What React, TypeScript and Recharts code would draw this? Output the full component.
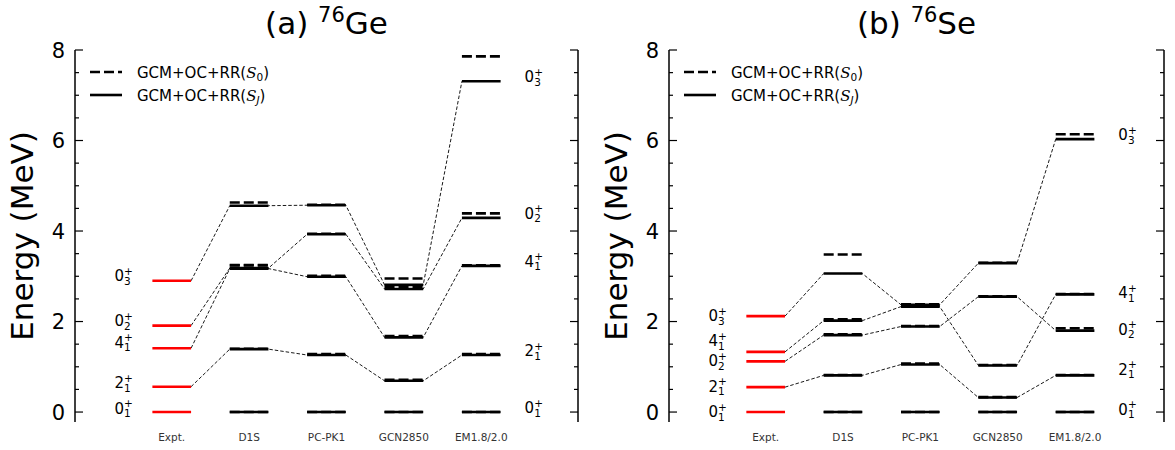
import React from 'react';
import { ComposedChart, Line, XAxis, YAxis, Scatter, Legend } from 'recharts';

const FONT = '"DejaVu Sans", Verdana, sans-serif';

// ---------- categories / ticks / labels ----------
const categories = ['Expt.', 'D1S', 'PC-PK1', 'GCN2850', 'EM1.8/2.0'];
const categoryTicks = [0, 1, 2, 3, 4];
const yTicks = [0, 0.5, 1, 1.5, 2, 2.5, 3, 3.5, 4, 4.5, 5, 5.5, 6, 6.5, 7, 7.5, 8];
// state order: 0_1+, 2_1+, 4_1+, 0_2+, 0_3+
const stateMain = ['0', '2', '4', '0', '0'];
const stateSub = ['1', '1', '1', '2', '3'];

// ---------- 76Ge (MeV) ----------
const geExpt = [0, 0.56, 1.41, 1.91, 2.9];
// model order: D1S, PC-PK1, GCN2850, EM1.8/2.0
const geSJ_01 = [0, 0, 0, 0];
const geSJ_21 = [1.39, 1.26, 0.69, 1.26];
const geSJ_41 = [3.17, 2.99, 1.65, 3.23];
const geSJ_02 = [3.18, 3.93, 2.72, 4.29];
const geSJ_03 = [4.56, 4.57, 2.81, 7.31];
const geS0_01 = [0, 0, 0, 0];
const geS0_21 = [1.4, 1.28, 0.71, 1.28];
const geS0_41 = [3.24, 3.01, 1.68, 3.24];
const geS0_02 = [3.25, 3.94, 2.77, 4.39];
const geS0_03 = [4.63, 4.58, 2.95, 7.86];
const geLeftLabelE = [0.08, 0.65, 1.54, 2.02, 3.01];
const geRightLabelE = [0.09, 1.35, 3.33, 4.39, 7.41];

// ---------- 76Se (MeV) ----------
const seExpt = [0, 0.55, 1.33, 1.12, 2.12];
const seSJ_01 = [0, 0, 0, 0];
const seSJ_21 = [0.81, 1.05, 0.32, 0.81];
const seSJ_41 = [2.02, 2.33, 1.03, 2.6];
const seSJ_02 = [1.7, 1.89, 2.55, 1.8];
const seSJ_03 = [3.06, 2.37, 3.29, 6.03];
const seS0_01 = [0, 0, 0, 0];
const seS0_21 = [0.82, 1.07, 0.33, 0.82];
const seS0_41 = [2.05, 2.35, 1.04, 2.61];
const seS0_02 = [1.72, 1.9, 2.56, 1.85];
const seS0_03 = [3.48, 2.38, 3.3, 6.14];
const seLeftLabelE = [0.01, 0.57, 1.58, 1.13, 2.13];
const seRightLabelE = [0.06, 0.95, 2.64, 1.83, 6.13];

// ---------- helpers ----------
const HALF = 0.25;
type Pt = { x: number; y: number | null };

const modelBars = (vals: number[]): Pt[] => {
  const pts: Pt[] = [];
  vals.forEach((v, i) => {
    const c = i + 1;
    if (i > 0) pts.push({ x: c - 0.5, y: null });
    pts.push({ x: c - HALF, y: v }, { x: c + HALF, y: v });
  });
  return pts;
};
const exptBar = (v: number): Pt[] => [
  { x: -HALF, y: v },
  { x: HALF, y: v },
];
const connector = (e: number, vals: number[]): Pt[] => {
  const pts: Pt[] = [{ x: HALF, y: e }];
  vals.forEach((v, i) => {
    const c = i + 1;
    pts.push({ x: c - HALF, y: v });
    if (i < vals.length - 1) pts.push({ x: c + HALF, y: v });
  });
  return pts;
};

const LabelShape = (props: any) => {
  const { cx, cy, payload } = props;
  if (cx == null || cy == null) return <g />;
  const base = cy + 5.5;
  return (
    <g>
      <text x={cx} y={base} fontSize={15} fontFamily={FONT} fill="#000">
        {payload.main}
      </text>
      <text x={cx + 9.6} y={base - 6.5} fontSize={10.5} fontFamily={FONT} fill="#000">
        +
      </text>
      <text x={cx + 9.6} y={base + 3.5} fontSize={10.5} fontFamily={FONT} fill="#000">
        {payload.sub}
      </text>
    </g>
  );
};

const LeftTick = (p: any) => {
  const { x, y, payload } = p;
  const v = payload.value;
  const major = v % 2 === 0;
  return (
    <g>
      <line x1={x} x2={x + (major ? 8 : 4)} y1={y} y2={y} stroke="#000" strokeWidth={1.2} />
      {major && (
        <text x={x - 10} y={y + 7.5} textAnchor="end" fontSize={21} fontFamily={FONT} fill="#000">
          {v}
        </text>
      )}
    </g>
  );
};

const RightTick = (p: any) => {
  const { x, y, payload } = p;
  const v = payload.value;
  const major = v % 2 === 0;
  return <line x1={x} x2={x - (major ? 8 : 4)} y1={y} y2={y} stroke="#000" strokeWidth={1.2} />;
};

const CatTick = (p: any) => {
  const { x, y, payload } = p;
  return (
    <text x={x} y={y + 19} textAnchor="middle" fontSize={10.5} fontFamily={FONT} fill="#333">
      {categories[payload.value]}
    </text>
  );
};

const LegendBox = () => (
  <svg width={300} height={60} style={{ overflow: 'visible' }}>
    <line x1={15} x2={47} y1={17} y2={17} stroke="#000" strokeWidth={2.6} strokeDasharray="10 4" />
    <line x1={15} x2={47} y1={40} y2={40} stroke="#000" strokeWidth={2.6} />
    <text x={62} y={22.5} fontSize={15} fontFamily={FONT} fill="#000">
      GCM+OC+RR(
      <tspan fontStyle="italic" fontFamily='"DejaVu Serif", serif'>S</tspan>
      <tspan fontSize={10.5} dy={3}>0</tspan>
      <tspan dy={-3}>)</tspan>
    </text>
    <text x={62} y={45.5} fontSize={15} fontFamily={FONT} fill="#000">
      GCM+OC+RR(
      <tspan fontStyle="italic" fontFamily='"DejaVu Serif", serif'>S</tspan>
      <tspan fontSize={10.5} dy={3} fontStyle="italic">J</tspan>
      <tspan dy={-3}>)</tspan>
    </text>
  </svg>
);

type PanelProps = {
  left: number;
  width: number;
  plotLeft: number;
  plotRight: number;
  xMax: number;
  tag: string;
  mass: string;
  element: string;
  expt: number[];
  sj: number[][];
  s0: number[][];
  leftLabelE: number[];
  rightLabelE: number[];
};

function Panel(props: PanelProps) {
  const { left, width, plotLeft, plotRight, xMax, tag, mass, element, expt, sj, s0, leftLabelE, rightLabelE } = props;
  const H = 450;
  const plotTop = 50;
  const plotBottom = 422;
  const AXW = 1;
  const leftLabels = stateMain.map((m, i) => ({ x: -0.74, y: leftLabelE[i], main: m, sub: stateSub[i] }));
  const rightLabels = stateMain.map((m, i) => ({ x: 4.56, y: rightLabelE[i], main: m, sub: stateSub[i] }));
  const cx = (plotLeft + plotRight) / 2;
  const cy = (plotTop + plotBottom) / 2;
  return (
    <div style={{ position: 'absolute', left, top: 0, width, height: H }}>
      <ComposedChart
        width={width}
        height={H}
        margin={{ top: plotTop, right: width - plotRight - AXW, bottom: 0, left: plotLeft - AXW }}
      >
        <XAxis
          type="number"
          dataKey="x"
          domain={[-1.25, xMax]}
          allowDataOverflow
          ticks={categoryTicks}
          interval={0}
          axisLine={false}
          tickLine={false}
          tickSize={0}
          tickMargin={0}
          height={H - plotBottom}
          tick={(p: any) => <CatTick {...p} />}
        />
        <YAxis
          yAxisId="l"
          type="number"
          dataKey="y"
          domain={[-0.22, 8]}
          allowDataOverflow
          ticks={yTicks}
          interval={0}
          width={AXW}
          tickSize={0}
          tickMargin={0}
          tickLine={false}
          axisLine={{ stroke: '#000', strokeWidth: 1.5 }}
          tick={(p: any) => <LeftTick {...p} />}
        />
        <YAxis
          yAxisId="r"
          orientation="right"
          type="number"
          dataKey="y"
          domain={[-0.22, 8]}
          allowDataOverflow
          ticks={yTicks}
          interval={0}
          width={AXW}
          tickSize={0}
          tickMargin={0}
          tickLine={false}
          axisLine={{ stroke: '#000', strokeWidth: 1.5 }}
          tick={(p: any) => <RightTick {...p} />}
        />
        {[1, 2, 3, 4].map((s) => (
          <Line
            key={'c' + s}
            yAxisId="l"
            data={connector(expt[s], sj[s])}
            dataKey="y"
            stroke="#000"
            strokeWidth={0.9}
            strokeDasharray="3.5 2"
            dot={false}
            activeDot={false}
            isAnimationActive={false}
          />
        ))}
        {s0.map((vals, s) => (
          <Line
            key={'d' + s}
            yAxisId="l"
            data={modelBars(vals)}
            dataKey="y"
            stroke="#000"
            strokeWidth={2.6}
            strokeDasharray="10 4"
            strokeLinecap="butt"
            dot={false}
            activeDot={false}
            isAnimationActive={false}
          />
        ))}
        {sj.map((vals, s) => (
          <Line
            key={'s' + s}
            yAxisId="l"
            data={modelBars(vals)}
            dataKey="y"
            stroke="#000"
            strokeWidth={2.6}
            strokeLinecap="butt"
            dot={false}
            activeDot={false}
            isAnimationActive={false}
          />
        ))}
        {expt.map((v, s) => (
          <Line
            key={'e' + s}
            yAxisId="l"
            data={exptBar(v)}
            dataKey="y"
            stroke="#ff0000"
            strokeWidth={2.6}
            strokeLinecap="butt"
            dot={false}
            activeDot={false}
            isAnimationActive={false}
          />
        ))}
        <Scatter yAxisId="l" data={leftLabels} dataKey="y" shape={LabelShape} isAnimationActive={false} />
        <Scatter yAxisId="l" data={rightLabels} dataKey="y" shape={LabelShape} isAnimationActive={false} />
        <Legend
          layout="vertical"
          align="center"
          verticalAlign="middle"
          wrapperStyle={{ left: plotLeft, top: 55, width: 300, height: 60 }}
          content={() => <LegendBox />}
        />
      </ComposedChart>
      <svg
        width={width}
        height={H}
        style={{ position: 'absolute', left: 0, top: 0, pointerEvents: 'none' }}
      >
        <text x={cx} y={34} textAnchor="middle" fontSize={31} fontFamily={FONT} fill="#000">
          {tag + ' '}
          <tspan fontSize={21} dy={-12}>
            {mass}
          </tspan>
          <tspan dy={12}>{element}</tspan>
        </text>
        <text
          transform={`translate(${plotLeft - 42}, ${cy}) rotate(-90)`}
          x={0}
          y={0}
          textAnchor="middle"
          fontSize={31}
          fontFamily={FONT}
          fill="#000"
        >
          Energy (MeV)
        </text>
      </svg>
    </div>
  );
}

export default function App() {
  return (
    <div style={{ position: 'absolute', left: 0, top: 0, width: 1175, height: 450, background: '#fff' }}>
      <Panel
        left={0}
        width={590}
        plotLeft={75}
        plotRight={578}
        xMax={5.25}
        tag="(a)"
        mass="76"
        element="Ge"
        expt={geExpt}
        sj={[geSJ_01, geSJ_21, geSJ_41, geSJ_02, geSJ_03]}
        s0={[geS0_01, geS0_21, geS0_41, geS0_02, geS0_03]}
        leftLabelE={geLeftLabelE}
        rightLabelE={geRightLabelE}
      />
      <Panel
        left={590}
        width={585}
        plotLeft={79}
        plotRight={574}
        xMax={5.15}
        tag="(b)"
        mass="76"
        element="Se"
        expt={seExpt}
        sj={[seSJ_01, seSJ_21, seSJ_41, seSJ_02, seSJ_03]}
        s0={[seS0_01, seS0_21, seS0_41, seS0_02, seS0_03]}
        leftLabelE={seLeftLabelE}
        rightLabelE={seRightLabelE}
      />
    </div>
  );
}
